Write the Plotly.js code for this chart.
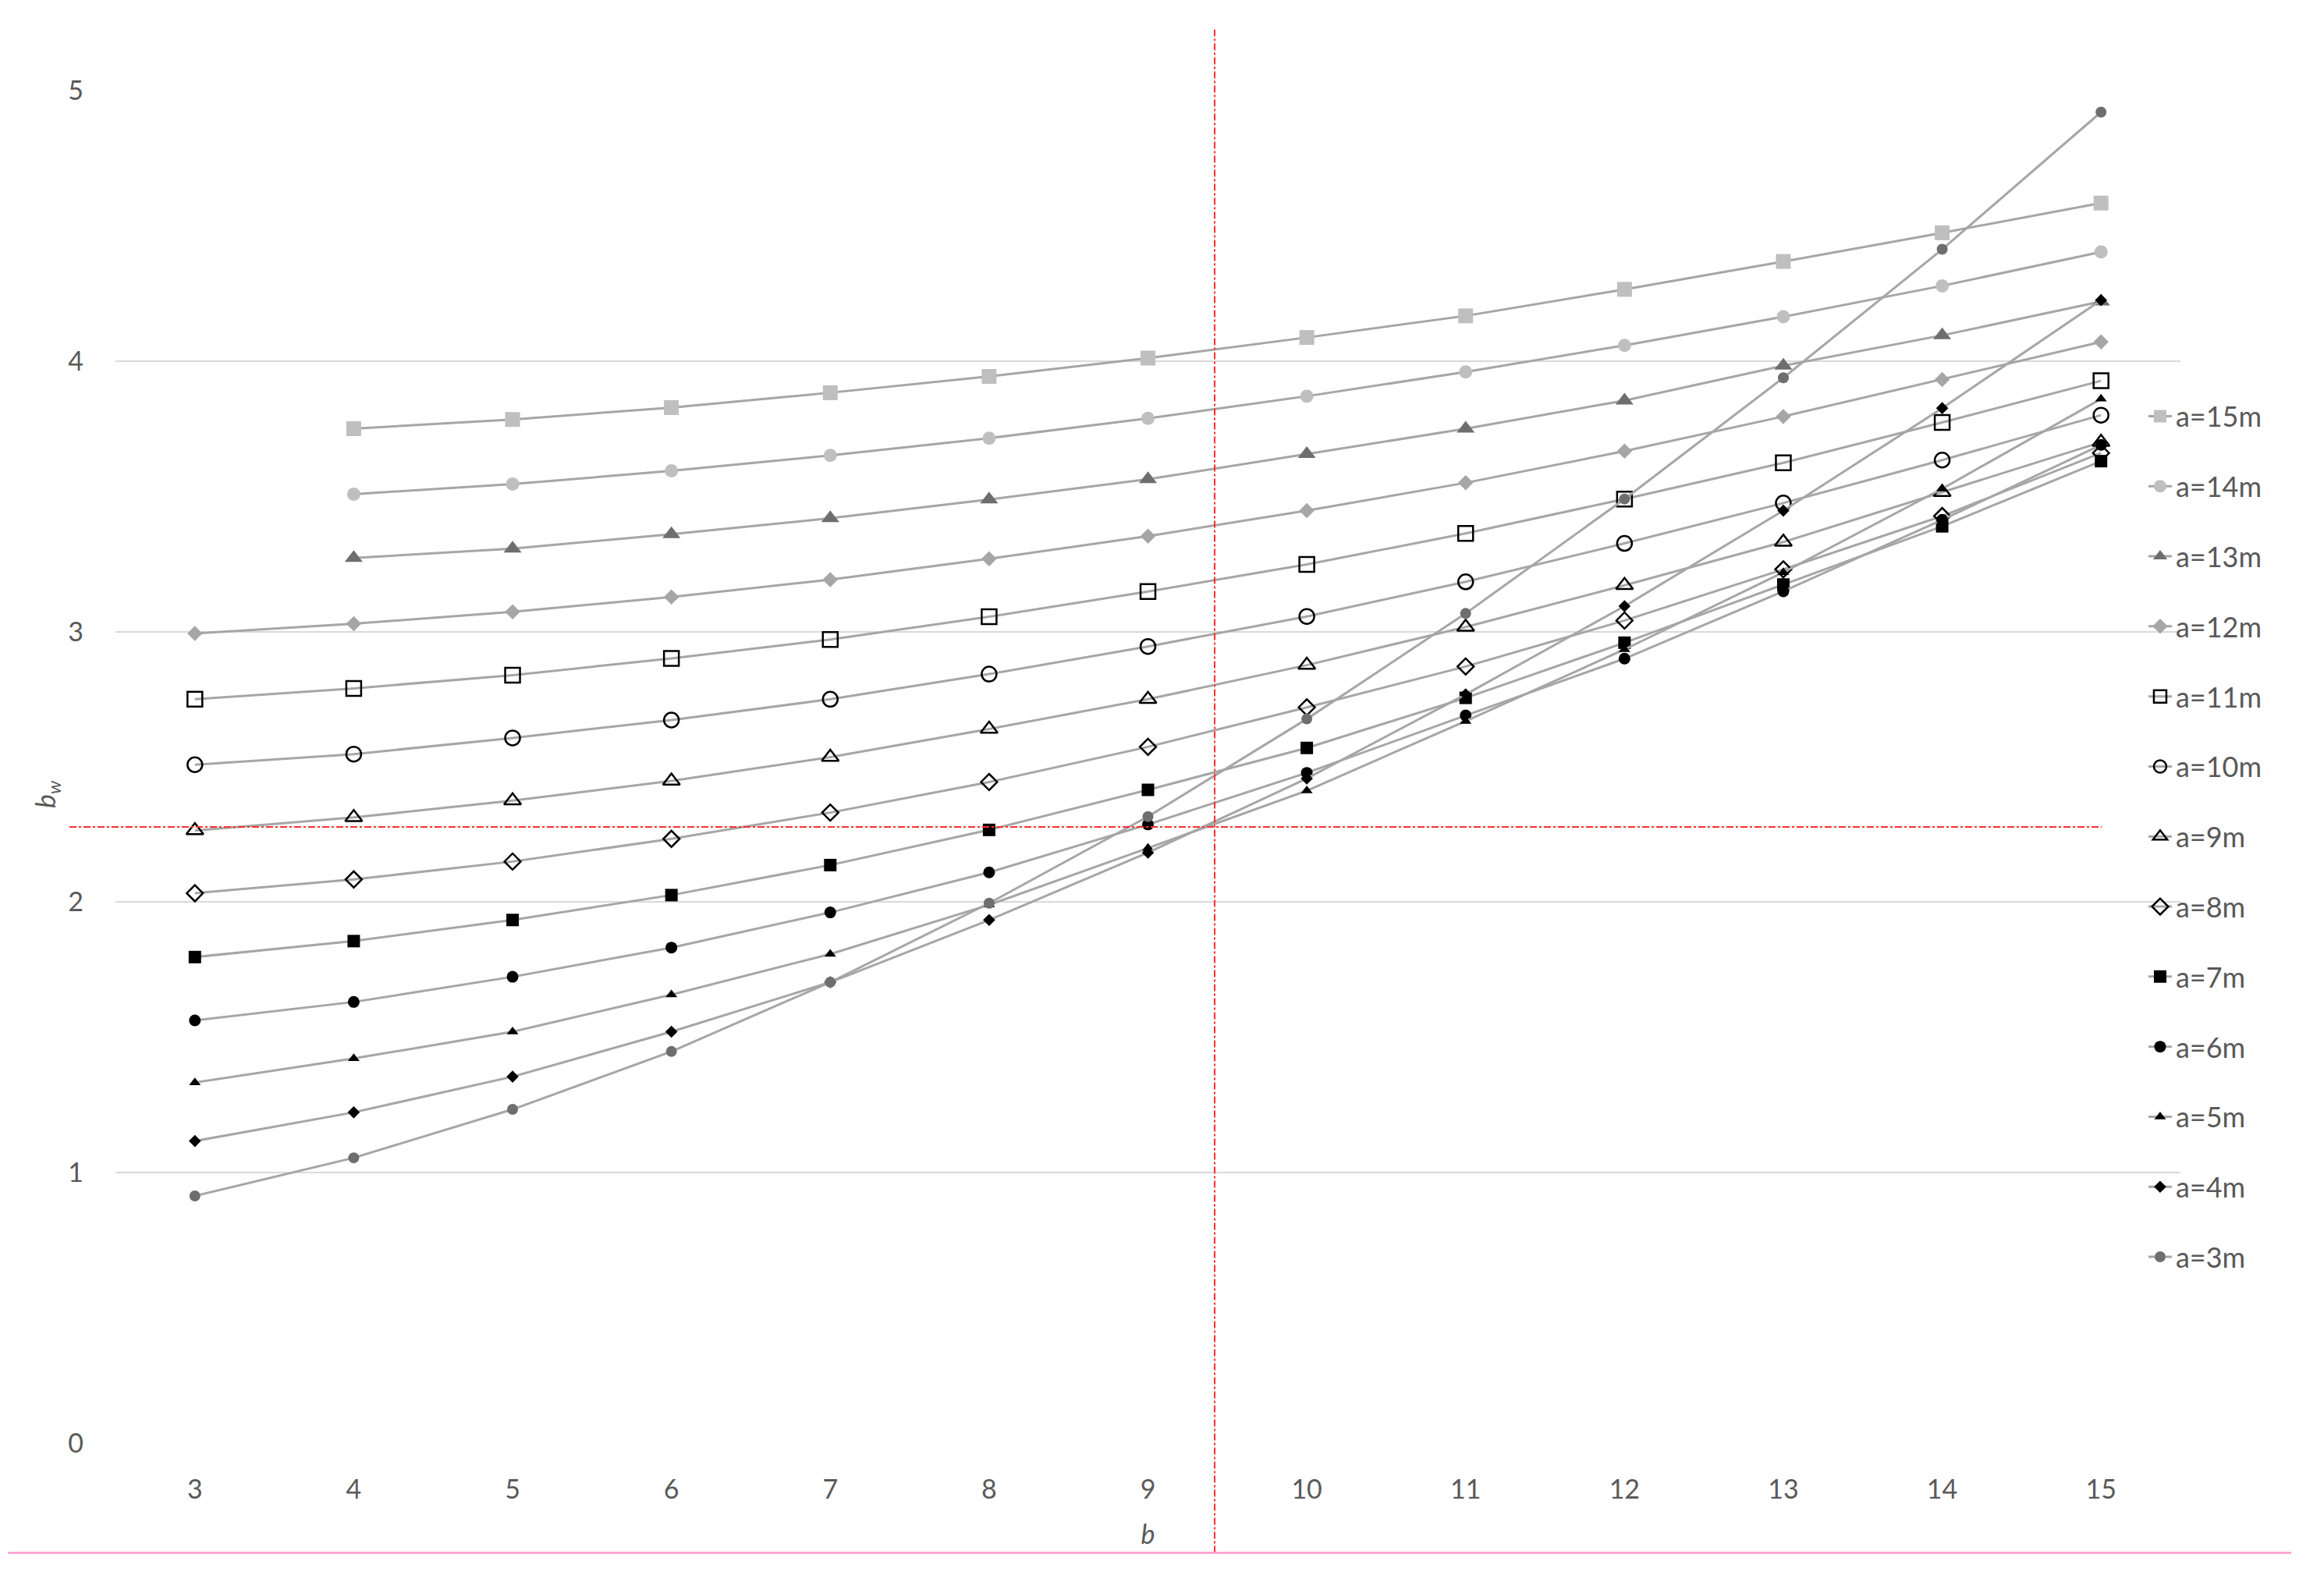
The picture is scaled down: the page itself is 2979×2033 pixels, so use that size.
<!DOCTYPE html>
<html>
<head>
<meta charset="utf-8">
<script src="https://cdn.plot.ly/plotly-3.0.1.min.js"></script>
<style>html,body{margin:0;padding:0;background:#fff;}#chart{width:2979px;height:2033px;}</style>
</head>
<body>
<div id="chart"></div>
<script>
// x categories (b)
const bValues = [3, 4, 5, 6, 7, 8, 9, 10, 11, 12, 13, 14, 15];
const xTickLabels = ['3','4','5','6','7','8','9','10','11','12','13','14','15'];
const yTickValues = [0, 1, 2, 3, 4, 5];

// series b_w for each a
const a15 = [null, 3.75, 3.784, 3.828, 3.883, 3.943, 4.011, 4.087, 4.167, 4.265, 4.368, 4.474, 4.584];
const a14 = [null, 3.508, 3.545, 3.594, 3.651, 3.715, 3.788, 3.87, 3.96, 4.058, 4.164, 4.278, 4.403];
const a13 = [null, 3.272, 3.307, 3.36, 3.419, 3.488, 3.563, 3.656, 3.75, 3.854, 3.983, 4.095, 4.22];
const a12 = [2.993, 3.029, 3.073, 3.128, 3.192, 3.269, 3.353, 3.447, 3.55, 3.667, 3.795, 3.932, 4.071];
const a11 = [2.75, 2.79, 2.839, 2.901, 2.971, 3.055, 3.148, 3.248, 3.363, 3.49, 3.624, 3.773, 3.927];
const a10 = [2.508, 2.547, 2.607, 2.673, 2.75, 2.843, 2.945, 3.056, 3.184, 3.326, 3.475, 3.634, 3.80];
const a9  = [2.265, 2.313, 2.375, 2.448, 2.536, 2.64, 2.75, 2.876, 3.017, 3.171, 3.331, 3.515, 3.70];
const a8  = [2.033, 2.084, 2.15, 2.234, 2.331, 2.444, 2.574, 2.72, 2.871, 3.041, 3.23, 3.427, 3.66];
const a7  = [1.797, 1.856, 1.934, 2.026, 2.137, 2.267, 2.415, 2.57, 2.755, 2.959, 3.174, 3.389, 3.63];
const a6  = [1.563, 1.631, 1.724, 1.832, 1.962, 2.11, 2.287, 2.478, 2.69, 2.90, 3.149, 3.413, 3.69];
const a5  = [1.333, 1.422, 1.521, 1.658, 1.808, 1.99, 2.20, 2.412, 2.669, 2.934, 3.219, 3.528, 3.86];
const a4  = [1.117, 1.223, 1.355, 1.521, 1.704, 1.934, 2.183, 2.457, 2.768, 3.094, 3.447, 3.826, 4.225];
const a3  = [0.914, 1.055, 1.234, 1.448, 1.704, 1.996, 2.316, 2.677, 3.067, 3.49, 3.938, 4.413, 4.92];

const seriesNames = ['a=15m','a=14m','a=13m','a=12m','a=11m','a=10m','a=9m','a=8m','a=7m','a=6m','a=5m','a=4m','a=3m'];
const seriesData = [a15, a14, a13, a12, a11, a10, a9, a8, a7, a6, a5, a4, a3];

// reference lines
const refB = 9.42;      // vertical red line (b)
const refBw = 2.278;    // horizontal red line (b_w)

const markerStyles = [
  {symbol:'square', color:'#BFBFBF', size:19, lw:0},
  {symbol:'circle', color:'#BFBFBF', size:17, lw:0},
  {symbol:'triangle-up', color:'#6E6E6E', size:20, lw:0},
  {symbol:'diamond', color:'#A6A6A6', size:15, lw:0},
  {symbol:'square-open', color:'#000000', size:19, lw:2.5},
  {symbol:'circle-open', color:'#000000', size:19, lw:2.5},
  {symbol:'triangle-up-open', color:'#000000', size:19, lw:2.5},
  {symbol:'diamond-open', color:'#000000', size:16, lw:2.5},
  {symbol:'square', color:'#000000', size:16, lw:0},
  {symbol:'circle', color:'#000000', size:15, lw:0},
  {symbol:'triangle-up', color:'#000000', size:13, lw:0},
  {symbol:'diamond', color:'#000000', size:12, lw:0},
  {symbol:'circle', color:'#6E6E6E', size:14, lw:0}
];

const traces = seriesData.map((ys, i) => ({
  x: bValues,
  y: ys,
  name: seriesNames[i],
  legendgroup: 'g' + i,
  type: 'scatter',
  mode: 'lines+markers',
  connectgaps: false,
  line: {color: '#A6A6A6', width: 3},
  marker: {
    symbol: markerStyles[i].symbol,
    color: markerStyles[i].color,
    size: markerStyles[i].size,
    line: {color: markerStyles[i].color, width: markerStyles[i].lw}
  }
}));

const fontFamily = 'Lato, "Liberation Sans", sans-serif';
const tickFont = {family: fontFamily, size: 34, color: '#595959'};

const layout = {
  width: 2979,
  height: 2033,
  paper_bgcolor: '#ffffff',
  plot_bgcolor: '#ffffff',
  margin: {l: 148, r: 184, t: 116, b: 183},
  showlegend: true,
  legend: {
    x: 0.9826, xanchor: 'left',
    y: 0.7765, yanchor: 'top',
    traceorder: 'grouped',
    tracegroupgap: 40,
    itemwidth: 30,
    font: {family: fontFamily, size: 36, color: '#595959'},
    bgcolor: 'rgba(0,0,0,0)'
  },
  xaxis: {
    range: [2.5, 15.5],
    tickmode: 'array',
    tickvals: bValues,
    ticktext: xTickLabels,
    showgrid: false,
    zeroline: false,
    showline: false,
    ticks: '',
    tickfont: tickFont,
    ticklabelstandoff: 36,
    title: {text: '<i>b</i>', font: {family: fontFamily, size: 34, color: '#595959'}, standoff: 28}
  },
  yaxis: {
    range: [0, 5],
    tickmode: 'array',
    tickvals: yTickValues,
    showgrid: true,
    gridcolor: '#D9D9D9',
    gridwidth: 2,
    zeroline: false,
    showline: false,
    ticks: '',
    tickfont: tickFont,
    ticklabelstandoff: 40
  },
  annotations: [
    {text: '<i>b<sub>w</sub></i>', xref: 'paper', yref: 'y', x: -0.0335, y: 2.40,
     xanchor: 'center', yanchor: 'middle', textangle: -90, showarrow: false,
     font: {family: fontFamily, size: 34, color: '#595959'}}
  ],
  shapes: [
    {type: 'line', xref: 'x', yref: 'paper', x0: refB, x1: refB, y0: -0.081, y1: 1.045,
     line: {color: '#FF3030', width: 2, dash: 'dashdot'}},
    {type: 'line', xref: 'paper', yref: 'y', x0: -0.0223, x1: 0.9619, y0: refBw, y1: refBw,
     line: {color: '#FF3030', width: 2, dash: 'dashdot'}},
    {type: 'line', xref: 'paper', yref: 'paper', x0: -0.052, x1: 1.0537, y0: -0.081, y1: -0.081,
     line: {color: '#FF99CC', width: 2.5}}
  ]
};

Plotly.newPlot('chart', traces, layout, {displayModeBar: false, staticPlot: true});
</script>
</body>
</html>
